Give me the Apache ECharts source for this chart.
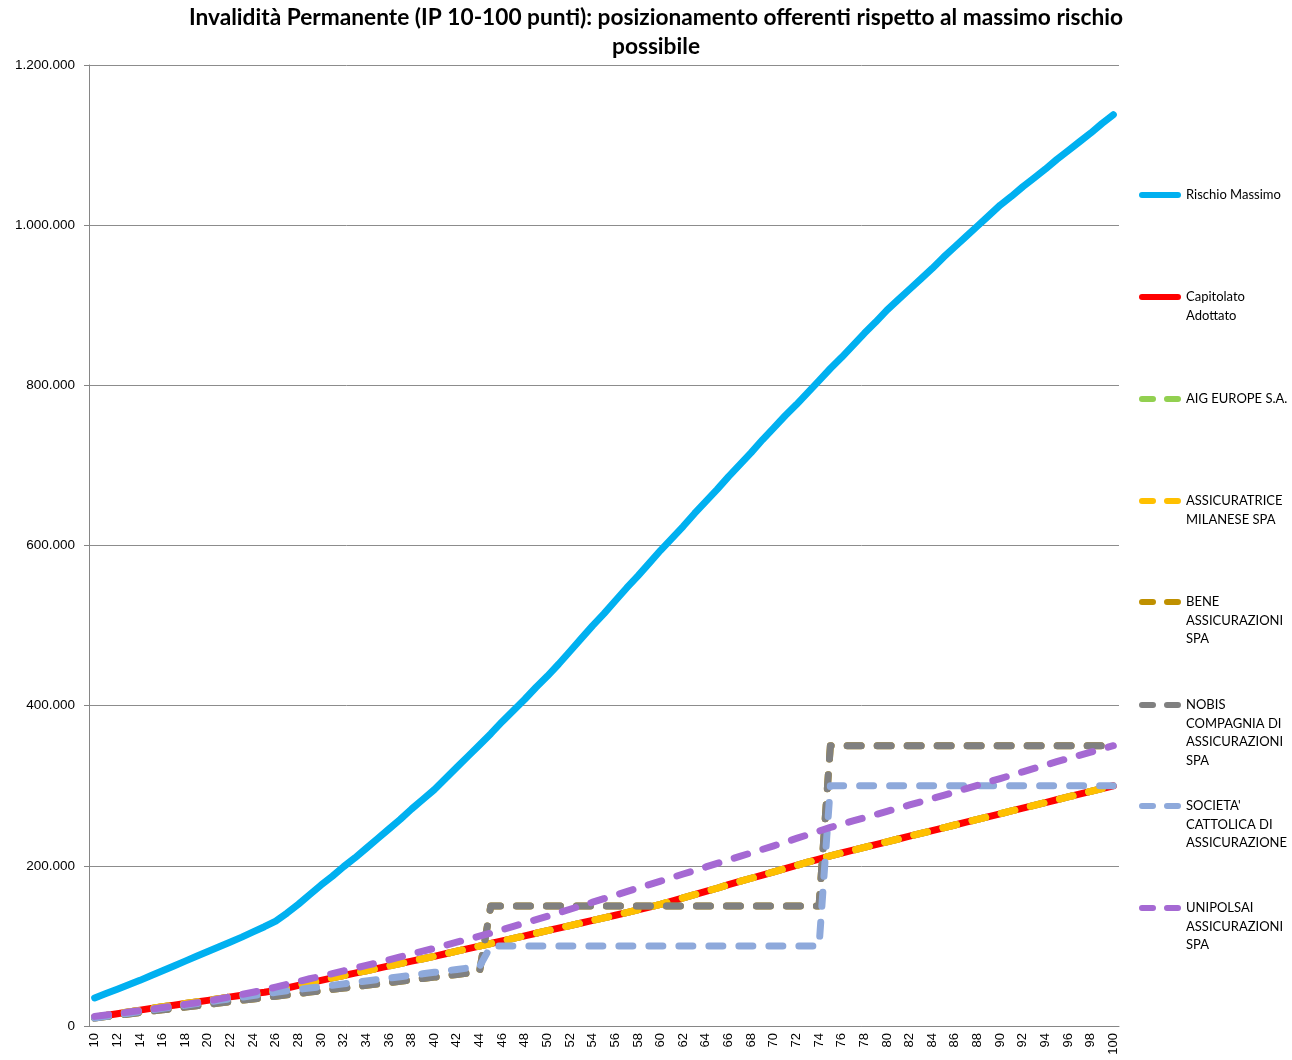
<!DOCTYPE html>
<html>
<head>
<meta charset="utf-8">
<script src="https://cdn.jsdelivr.net/npm/echarts@6/dist/echarts.min.js"></script>
<style>
html,body{margin:0;padding:0;background:#fff;}
#chart{width:1292px;height:1060px;}
</style>
</head>
<body>
<div id="chart"></div>
<script>
// Punti di invalidità (categorie asse X)
const categories = ['10','11','12','13','14','15','16','17','18','19','20','21','22','23','24','25','26','27','28','29','30','31','32','33','34','35','36','37','38','39','40','41','42','43','44','45','46','47','48','49','50','51','52','53','54','55','56','57','58','59','60','61','62','63','64','65','66','67','68','69','70','71','72','73','74','75','76','77','78','79','80','81','82','83','84','85','86','87','88','89','90','91','92','93','94','95','96','97','98','99','100'];

// Valori in migliaia di euro
const rischioMassimo = [35,40.5,46,51.5,57,63,69,75,81,87,93,99,105,111,117.5,124,131,141,152,164,176,187,199,210,222,234,246,258,271,283,295,309,323,337,351,365,380,394,408,423,437,452,468,484,500,515,531,547,562,578,594,609,624,640,655,670,686,701,716,732,747,762,776,791,806,821,835,850,865,879,894,907,920,933,946,960,973,986,999,1012,1025,1036,1048,1059,1070,1082,1093,1104,1115,1127,1138];

const capitolato = [11,13.2,15.4,17.6,19.8,22,24.2,26,28,30,32,34.2,36.4,38.4,40.4,42.2,44.5,47.5,50.8,54,57,60,63,66,69,72,75,78,81,84,87,90.2,93.4,96.6,99.8,103,106.2,109.4,112.6,115.8,119,122.2,125.4,128.6,131.8,135,138.3,141.6,145,148.5,152,156,160,164,168,172,176.5,180.5,184.5,188.5,192.5,196.5,200.5,204.5,208.5,212.5,216,219.5,223,226.5,230,233.5,237,240.5,244,247.5,251,254.5,258,261.5,265,268.5,272,275.5,279,282.5,286,289.5,293,296.5,300];

const aigEurope = capitolato.slice();
const assicuratriceMilanese = capitolato.slice();

const nobis = [10,11.7,13.4,15.1,16.8,18.5,20.2,21.9,23.6,25.3,27,28.7,30.4,32.1,33.8,35.5,37.2,38.9,40.6,42.3,44,45.7,47.4,49.1,50.8,52.5,54.2,55.9,57.6,59.3,61,62.7,64.4,66.1,67.8,150,150,150,150,150,150,150,150,150,150,150,150,150,150,150,150,150,150,150,150,150,150,150,150,150,150,150,150,150,150,350,350,350,350,350,350,350,350,350,350,350,350,350,350,350,350,350,350,350,350,350,350,350,350,350,350];

const bene = nobis.slice();

const cattolica = [10,12,14,16,18,20,22,24,26,28,30,32,34,36,38,40,42,44,45.7,47.4,49,50.8,52.6,54.4,56.2,58,59.8,61.6,63.4,65.2,67,68.8,70.6,72.4,74,100,100,100,100,100,100,100,100,100,100,100,100,100,100,100,100,100,100,100,100,100,100,100,100,100,100,100,100,100,100,300,300,300,300,300,300,300,300,300,300,300,300,300,300,300,300,300,300,300,300,300,300,300,300,300,300];

const unipolsai = [12,13.8,15.6,17.4,19.2,21,23,25,27,29,31,33.8,36.6,39.4,42.2,45,48.5,52,55.5,59,62,65.4,68.8,72.2,75.6,79,82.6,86.2,89.8,93.4,97,100.8,104.6,108.4,112.2,116,120.2,124.4,128.6,132.8,137,141.4,145.8,150.2,154.6,159,163.4,167.8,172.2,176.6,181,185.4,189.8,194.2,198.6,203,207.4,211.8,216.2,220.6,225,229.6,234.2,238.8,243.4,248,252,256,260,264,268,272,276,280,284,288,292.2,296.4,300.6,304.8,309,313.2,317.4,321.6,325.8,330,334,338,342,346,350];

const yTicks = [0,200000,400000,600000,800000,1000000,1200000];

const seriesDefs = [
  {name:'Rischio Massimo', data:rischioMassimo, color:'#00B0F0', dashed:false, lines:['Rischio Massimo']},
  {name:'Capitolato Adottato', data:capitolato, color:'#FF0000', dashed:false, lines:['Capitolato','Adottato']},
  {name:'AIG EUROPE S.A.', data:aigEurope, color:'#92D050', dashed:true, lines:['AIG EUROPE S.A.']},
  {name:'ASSICURATRICE MILANESE SPA', data:assicuratriceMilanese, color:'#FFC000', dashed:true, lines:['ASSICURATRICE','MILANESE SPA']},
  {name:'BENE ASSICURAZIONI SPA', data:bene, color:'#BF9000', dashed:true, lines:['BENE','ASSICURAZIONI','SPA']},
  {name:'NOBIS COMPAGNIA DI ASSICURAZIONI SPA', data:nobis, color:'#808080', dashed:true, lines:['NOBIS','COMPAGNIA DI','ASSICURAZIONI','SPA']},
  {name:"SOCIETA' CATTOLICA DI ASSICURAZIONE", data:cattolica, color:'#8EA9DB', dashed:true, lines:["SOCIETA'",'CATTOLICA DI','ASSICURAZIONE']},
  {name:'UNIPOLSAI ASSICURAZIONI SPA', data:unipolsai, color:'#A569D3', dashed:true, lines:['UNIPOLSAI','ASSICURAZIONI','SPA']}
];

const legendCenters = [195,297,399,501,602,705,806,908];
const LH = 18.5;
const txtFont = 'Lato';
const axisFont = 'Liberation Sans';
const iconSolid = 'path://M3,0H39A3,3 0 0 1 39,6H3A3,3 0 0 1 3,0Z';
const iconDashed = 'path://M3,0H14A3,3 0 0 1 14,6H3A3,3 0 0 1 3,0Z M28,0H39A3,3 0 0 1 39,6H28A3,3 0 0 1 28,0Z';

function fmt(v){ return String(v).replace(/\B(?=(\d{3})+(?!\d))/g, '.'); }

const chart = echarts.init(document.getElementById('chart'));
chart.setOption({
  animation:false,
  backgroundColor:'#fff',
  title:{
    text:'Invalidità Permanente (IP 10-100 punti): posizionamento offerenti rispetto al massimo rischio\npossibile',
    left:651, top:-2, textAlign:'center',
    textStyle:{fontFamily:txtFont, fontWeight:'bold', fontSize:22.7, lineHeight:29, color:'#000'}
  },
  grid:{left:89, right:173, top:65, bottom:34, containLabel:false},
  legend: seriesDefs.map((s,i)=>{
    const N = s.lines.length;
    return {
      data:[s.name], left:1139, top: legendCenters[i] - (2*N-1)*LH/2,
      orient:'vertical', padding:0, itemGap:0, itemWidth:42, itemHeight:6,
      icon: s.dashed ? iconDashed : iconSolid,
      selectedMode:false,
      formatter: () => '\n'.repeat(N-1) + s.lines.join('\n'),
      textStyle:{fontFamily:txtFont, fontSize:13, lineHeight:LH, color:'#000'}
    };
  }),
  xAxis:{
    type:'category', data:categories, boundaryGap:true,
    axisLine:{lineStyle:{color:'#868686', width:1}},
    axisTick:{interval:9, length:5, lineStyle:{color:'#868686'}},
    axisLabel:{interval:1, rotate:90, fontSize:13, color:'#000', margin:7, fontFamily:axisFont},
    splitLine:{show:false}
  },
  yAxis:{
    type:'value', min:yTicks[0], max:yTicks[yTicks.length-1], interval:yTicks[1]-yTicks[0],
    axisLine:{show:true, lineStyle:{color:'#868686', width:1}},
    axisTick:{show:true, length:5, lineStyle:{color:'#868686'}},
    axisLabel:{formatter:fmt, fontSize:13.5, color:'#000', margin:14, fontFamily:axisFont},
    splitLine:{show:true, lineStyle:{color:'#8c8c8c', width:1}}
  },
  series: seriesDefs.map(s=>({
    name:s.name, type:'line', data:s.data.map(v=>v*1000),
    symbol:'none', showSymbol:false, smooth:false,
    itemStyle:{color:s.color},
    lineStyle:{color:s.color, width:7, type: s.dashed ? [14,16] : 'solid', cap:'round', join:'round'},
    emphasis:{disabled:true}
  }))
});
</script>
</body>
</html>
